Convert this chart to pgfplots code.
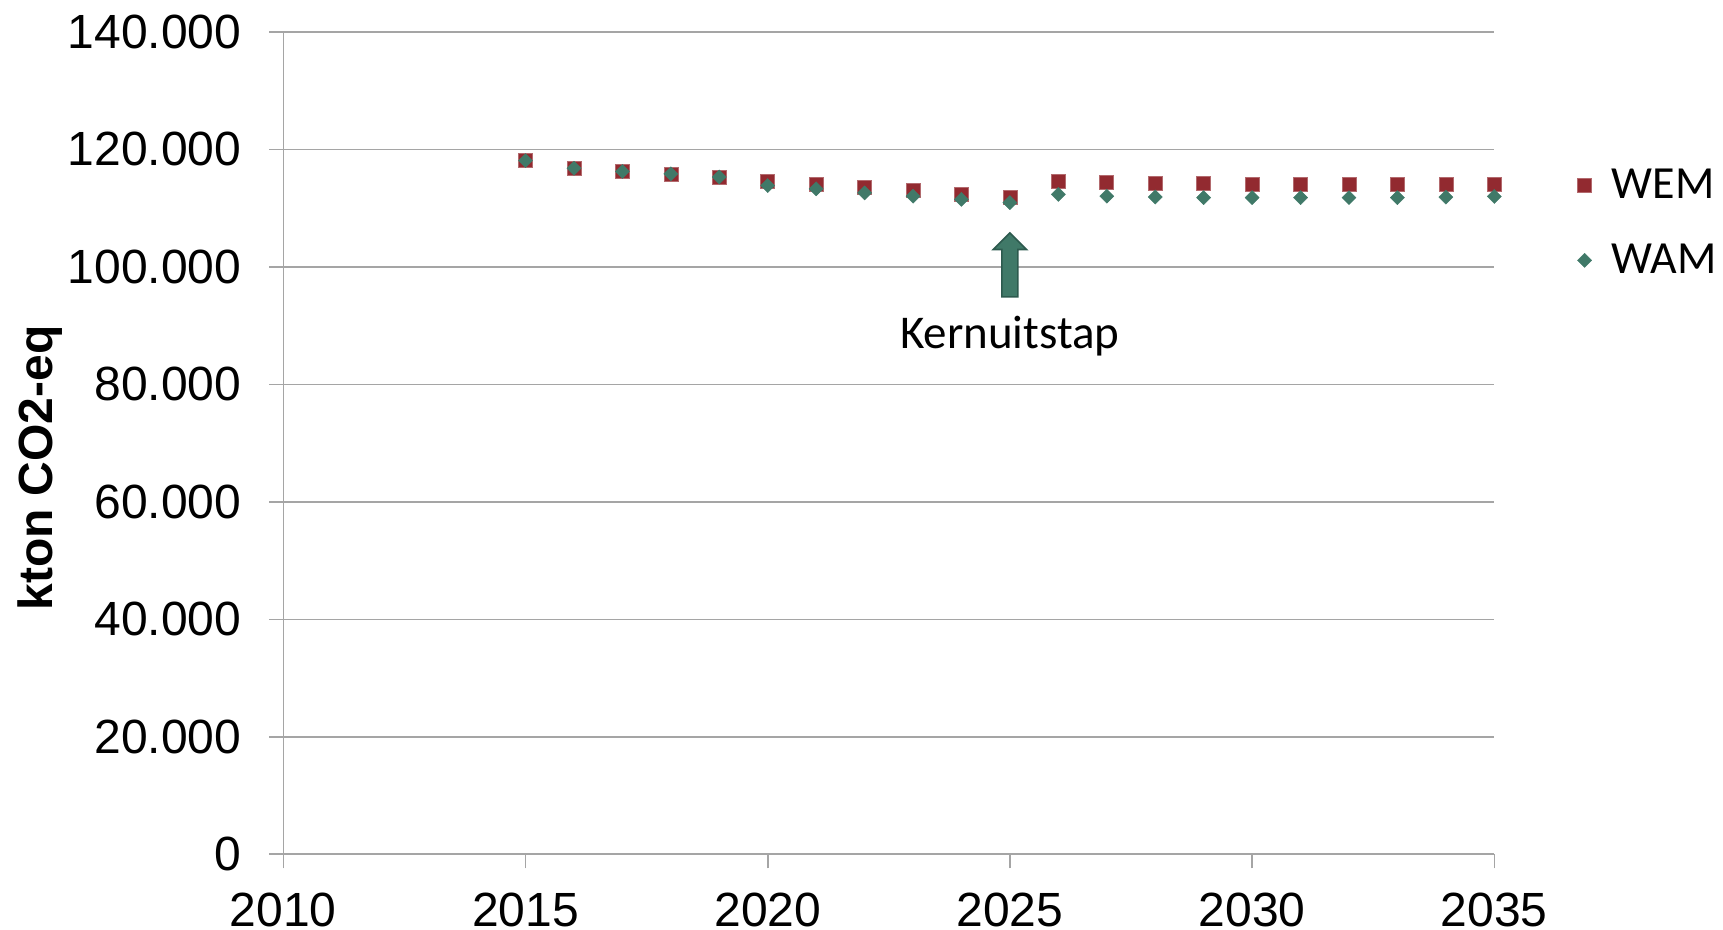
\documentclass[border=0pt]{standalone}
\usepackage{fontspec}
\setmainfont{Liberation Sans}
\newfontfamily\carlito{Carlito}
\usepackage{pgfplots}
\pgfplotsset{compat=1.18}
\definecolor{wemred}{RGB}{146,42,48}
\definecolor{wamgreen}{RGB}{64,121,104}
\definecolor{arrowdark}{RGB}{45,90,78}
\definecolor{gridgray}{RGB}{165,165,165}
\begin{document}
\begin{tikzpicture}
\useasboundingbox (0,0) rectangle (861.5pt,465pt);
\begin{axis}[
  at={(141.65pt,37.85pt)}, anchor=south west,
  scale only axis, width=605.5pt, height=411.15pt,
  xmin=2010, xmax=2035, ymin=0, ymax=140000,
  axis x line*=bottom, axis y line*=left,
  axis line style={gridgray, line width=0.8pt, -},
  xtick={2010,2015,...,2035},
  xticklabels={2010,2015,2020,2025,2030,2035},
  ytick={0,20000,...,140000},
  yticklabels={0,20.000,40.000,60.000,80.000,100.000,120.000,140.000},
  scaled y ticks=false, scaled x ticks=false,
  tick align=outside, major tick length=7pt,
  tick style={gridgray, line width=0.8pt},
  ymajorgrids, grid style={gridgray, line width=0.8pt},
  ticklabel style={font=\fontsize{24}{28}\selectfont, text=black},
  yticklabel style={inner sep=0pt, xshift=-13.8pt},
  xticklabel style={inner sep=0pt, yshift=-12pt},
  ylabel={\bfseries kton CO2-eq},
  ylabel style={at={(axis description cs:-0.2009,0.4698)}, anchor=center, font=\fontsize{24}{28}\selectfont},
  legend style={draw=none, fill=none, at={(axis description cs:1.0634,0.839)}, anchor=north west,
    font=\carlito\fontsize{23}{27}\selectfont, row sep=21.4pt,
    nodes={inner sep=0pt}, /tikz/every odd column/.append style={column sep=10pt}},
  legend cell align=left,
  legend image code/.code={\draw[mark repeat=1,#1] plot coordinates {(0pt,0pt)};},
  clip=false,
]
\addplot[only marks, mark=square*, mark size=3.5pt, mark options={fill=wemred, draw=wemred!70!white, line width=0.3pt}, color=wemred]
coordinates {
(2015,118100)(2016,116800)(2017,116250)(2018,115850)(2019,115300)(2020,114650)
(2021,114100)(2022,113500)(2023,113000)(2024,112400)(2025,111900)(2026,114600)
(2027,114450)(2028,114300)(2029,114200)(2030,114100)(2031,114050)(2032,114050)
(2033,114050)(2034,114050)(2035,114050)};
\addlegendentry{WEM}
\addplot[only marks, mark=square*, mark size=2.5pt, mark options={rotate=45, fill=wamgreen, draw=wamgreen, line width=0.2pt}, color=wamgreen]
coordinates {
(2015,118100)(2016,116800)(2017,116250)(2018,115850)(2019,115300)(2020,113850)
(2021,113300)(2022,112600)(2023,112050)(2024,111500)(2025,110950)(2026,112350)
(2027,112050)(2028,111900)(2029,111800)(2030,111800)(2031,111800)(2032,111800)
(2033,111800)(2034,111900)(2035,112000)};
\addlegendentry{WAM}
\draw[shift={(axis cs:2025,94890)}, fill=wamgreen, draw=arrowdark, line width=0.8pt]
  (-4pt,0pt) -- (-4pt,23.7pt) -- (-8.35pt,23.7pt) -- (0pt,32pt) -- (8.35pt,23.7pt) -- (4pt,23.7pt) -- (4pt,0pt) -- cycle;
\node[anchor=base, inner sep=0pt, font=\carlito\fontsize{23.5}{28}\selectfont] at (axis cs:2025,86150) {Kernuitstap};
\end{axis}
\end{tikzpicture}
\end{document}
